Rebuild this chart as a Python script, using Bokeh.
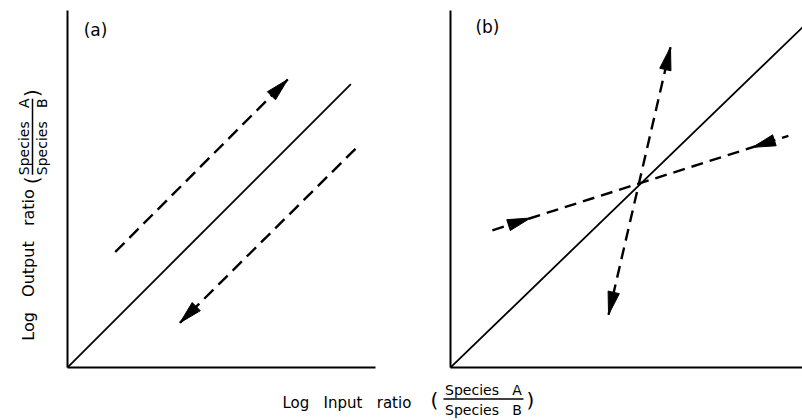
import numpy as np
from bokeh.plotting import figure
from bokeh.models import Range1d, FixedTicker
from bokeh.layouts import column, row
from bokeh.embed import file_html
from bokeh.resources import INLINE
from bokeh.core.properties import value

# ---------------- data (diagram units) ----------------
# Panel (a): 1:1 line and two parallel displaced trajectories
a_solid_x = [0.0, 9.2]
a_solid_y = [0.0, 9.2]
a_up_x = [1.55, 7.15]      # arrow tip at the end
a_up_y = [3.75, 9.35]
a_down_x = [9.35, 3.65]    # arrow tip at the end
a_down_y = [7.10, 1.45]

# Panel (b): 1:1 line, a steep (diverging) and a shallow (converging) line
b_solid_x = [0.0, 10.0]
b_solid_y = [0.0, 9.72]
b_steep_x = [4.49, 6.25]   # tips at both ends (pointing outwards)
b_steep_y = [1.51, 9.15]
b_shallow_x = [1.19, 9.60]
b_shallow_y = [3.92, 6.62]
b_inward_tip_x = [2.27, 8.58]   # arrow tips on the shallow line (pointing inwards)
b_inward_tip_y = [4.27, 6.29]

panel_labels = ["(a)", "(b)"]
SP = "\u00a0\u00a0 "
x_label_main = "Log" + SP + "Input" + SP + "ratio"
y_label_main = "Log" + SP + "Output" + SP + "ratio"
frac_num = "Species\u00a0\u00a0\u00a0A"
frac_den = "Species\u00a0\u00a0\u00a0B"

FONT = value("DejaVu Sans")

# ---------------- layout constants ----------------
ROW_H = 376
YL_W, A_W, B_W = 64, 356, 382
XL_H = 44
A_XR, A_YR = (0, 10), (0, 11.59)
B_XR, B_YR = (0, 10), (0, 10.2)
A_FW, A_FH = 308, 357
B_FW, B_FH = 352, 359

HEAD_L, HEAD_W = 23, 11.5


def head(tip, frm, sx, sy):
    dx = (tip[0] - frm[0]) * sx
    dy = (tip[1] - frm[1]) * sy
    n = np.hypot(dx, dy)
    ux, uy = dx / n, dy / n
    bx, by = tip[0] * sx - HEAD_L * ux, tip[1] * sy - HEAD_L * uy
    px, py = -uy, ux
    xs = [tip[0], (bx + px * HEAD_W / 2) / sx, (bx - px * HEAD_W / 2) / sx]
    ys = [tip[1], (by + py * HEAD_W / 2) / sy, (by - py * HEAD_W / 2) / sy]
    return xs, ys


def panel(width, xr, yr, mbl, mbr, mbt, mbb):
    p = figure(width=width, height=ROW_H, x_range=Range1d(*xr), y_range=Range1d(*yr),
               output_backend="svg", toolbar_location=None,
               min_border_left=mbl, min_border_right=mbr,
               min_border_top=mbt, min_border_bottom=mbb)
    p.grid.visible = False
    p.outline_line_color = None
    for ax in p.axis:
        ax.ticker = FixedTicker(ticks=[])
        ax.major_tick_out = 0
        ax.major_tick_in = 0
        ax.minor_tick_out = 0
        ax.minor_tick_in = 0
        ax.major_label_text_font_size = "0px"
        ax.major_label_standoff = 0
        ax.axis_line_width = 2
        ax.axis_line_color = "black"
    return p


DASH = "13 7"
DW = 2.4

# ---- panel (a)
pa = panel(A_W, A_XR, A_YR, 3, 45, 10, 9)
sxa = A_FW / (A_XR[1] - A_XR[0])
sya = A_FH / (A_YR[1] - A_YR[0])
pa.line(a_solid_x, a_solid_y, line_color="black", line_width=1.8)
pa.line(a_up_x, a_up_y, line_color="black", line_width=DW, line_dash=DASH)
pa.line(a_down_x, a_down_y, line_color="black", line_width=DW, line_dash=DASH)
hx, hy = [], []
for xs_, ys_ in [(a_up_x, a_up_y), (a_down_x, a_down_y)]:
    h = head((xs_[1], ys_[1]), (xs_[0], ys_[0]), sxa, sya)
    hx.append(h[0]); hy.append(h[1])
pa.patches(hx, hy, fill_color="black", line_color="black", line_width=1)
pa.text(x=[0.91], y=[10.97], text=[panel_labels[0]], text_font=FONT,
        text_font_size="17px", text_align="center", text_baseline="middle")

# ---- panel (b)
pb = panel(B_W, B_XR, B_YR, 30, 0, 8, 9)
sxb = B_FW / (B_XR[1] - B_XR[0])
syb = B_FH / (B_YR[1] - B_YR[0])
pb.line(b_solid_x, b_solid_y, line_color="black", line_width=1.8)
pb.line(b_steep_x, b_steep_y, line_color="black", line_width=DW, line_dash="12 7")
pb.line(b_shallow_x, b_shallow_y, line_color="black", line_width=DW, line_dash="12 7")
hx, hy = [], []
for tip, frm in [((b_steep_x[1], b_steep_y[1]), (b_steep_x[0], b_steep_y[0])),
                 ((b_steep_x[0], b_steep_y[0]), (b_steep_x[1], b_steep_y[1])),
                 ((b_inward_tip_x[0], b_inward_tip_y[0]), (b_shallow_x[0], b_shallow_y[0])),
                 ((b_inward_tip_x[1], b_inward_tip_y[1]), (b_shallow_x[1], b_shallow_y[1]))]:
    h = head(tip, frm, sxb, syb)
    hx.append(h[0]); hy.append(h[1])
pb.patches(hx, hy, fill_color="black", line_color="black", line_width=1)
pb.text(x=[1.05], y=[9.74], text=[panel_labels[1]], text_font=FONT,
        text_font_size="17px", text_align="center", text_baseline="middle")


def blank(width, height):
    p = figure(width=width, height=height, x_range=Range1d(0, width), y_range=Range1d(0, height),
               output_backend="svg", toolbar_location=None,
               min_border_left=0, min_border_right=0, min_border_top=0, min_border_bottom=0)
    p.axis.visible = False
    p.grid.visible = False
    p.outline_line_color = None
    return p


TXT = dict(text_font=FONT, text_align="center", text_baseline="middle", text_color="black")

# ---- y label strip (rotated texts)
yl = blank(YL_W, ROW_H)
yl.text(x=[28], y=[108], text=[y_label_main], angle=np.pi / 2, text_font_size="16px", **TXT)
yl.text(x=[31], y=[197], text=["("], angle=np.pi / 2, text_font_size="20px", **TXT)
yl.text(x=[31], y=[289], text=[")"], angle=np.pi / 2, text_font_size="20px", **TXT)
yl.text(x=[23], y=[243], text=[frac_num], angle=np.pi / 2, text_font_size="14px", **TXT)
yl.text(x=[41], y=[243], text=[frac_den], angle=np.pi / 2, text_font_size="14px", **TXT)
yl.segment(x0=[32], y0=[203], x1=[32], y1=[283], line_color="black", line_width=1.5)

# ---- x label strip
xl = blank(YL_W + A_W + B_W, XL_H)
xl.text(x=[282], y=[18], text=[x_label_main], text_font_size="15px",
        **{**TXT, "text_align": "left"})
xl.text(x=[434], y=[21], text=["("], text_font_size="20px", **TXT)
xl.text(x=[530], y=[21], text=[")"], text_font_size="20px", **TXT)
xl.text(x=[483], y=[31], text=[frac_num], text_font_size="14px", **TXT)
xl.text(x=[483], y=[11], text=[frac_den], text_font_size="14px", **TXT)
xl.segment(x0=[443], y0=[21.5], x1=[523], y1=[21.5], line_color="black", line_width=1.5)

layout = column(row(yl, pa, pb), xl)
open("out.html", "w").write(file_html(layout, INLINE))
